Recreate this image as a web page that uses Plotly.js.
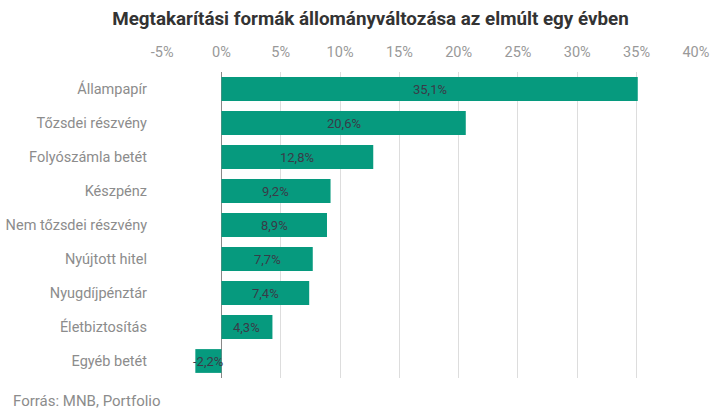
<!DOCTYPE html>
<html><head><meta charset="utf-8">
<script src="https://cdn.plot.ly/plotly-3.0.1.min.js"></script>
<style>html,body{margin:0;padding:0;background:#fff}#chart{width:718px;height:415px}</style>
</head><body><div id="chart"></div>
<script>
const categories = ["Állampapír","Tőzsdei részvény","Folyószámla betét","Készpénz","Nem tőzsdei részvény","Nyújtott hitel","Nyugdíjpénztár","Életbiztosítás","Egyéb betét"];
const values = [35.1, 20.6, 12.8, 9.2, 8.9, 7.7, 7.4, 4.3, -2.2];
const tickValues = [-5, 0, 5, 10, 15, 20, 25, 30, 35, 40];
const tickLabels = ["-5%","0%","5%","10%","15%","20%","25%","30%","35%","40%"];
const titleText = "Megtakarítási formák állományváltozása az elmúlt egy évben";
const sourceText = "Forrás: MNB, Portfolio";

const fmt = v => v.toFixed(1).replace('.', ',') + '%';

const trace = {
  type: 'bar', orientation: 'h',
  x: values, y: categories,
  marker: {color: '#069a7e'},
  textposition: 'none',
  hoverinfo: 'none'
};

const annotations = values.map((v, i) => ({
  x: v / 2, y: categories[i], xref: 'x', yref: 'y',
  text: fmt(v), showarrow: false,
  font: {family: 'Roboto', size: 13, color: '#3a3a48'}
}));
annotations.push({
  xref: 'paper', yref: 'paper', x: -151/534.5, y: -0.075, xanchor: 'left', yanchor: 'middle',
  text: sourceText, showarrow: false,
  font: {family: 'Roboto', size: 15, color: '#8c8c8c'}
});

const layout = {
  width: 718, height: 415,
  margin: {l: 162, r: 21.5, t: 72, b: 37},
  paper_bgcolor: '#fff', plot_bgcolor: '#fff',
  title: {text: '<b>' + titleText + '</b>', x: 370.5/718, xanchor: 'center', y: 0.955, yanchor: 'middle',
          font: {family: 'Roboto', size: 18.8, color: '#333333'}},
  bargap: 0.3,
  showlegend: false,
  xaxis: {
    side: 'top', range: [-5.01, 40.01],
    tickvals: tickValues, ticktext: tickLabels,
    showgrid: true, gridcolor: '#dddddd', gridwidth: 1,
    zeroline: true, zerolinecolor: '#888888', zerolinewidth: 1,
    ticks: '', ticklabelstandoff: 11,
    tickfont: {family: 'Roboto', size: 14.5, color: '#999999'},
    fixedrange: true
  },
  yaxis: {
    autorange: 'reversed', type: 'category',
    showgrid: false, zeroline: false,
    ticks: '', ticklabelstandoff: 14,
    tickfont: {family: 'Roboto', size: 14.5, color: '#8c8c8c'},
    fixedrange: true
  },
  annotations: annotations
};

Plotly.newPlot('chart', [trace], layout, {staticPlot: true, displayModeBar: false});
</script>
</body></html>
